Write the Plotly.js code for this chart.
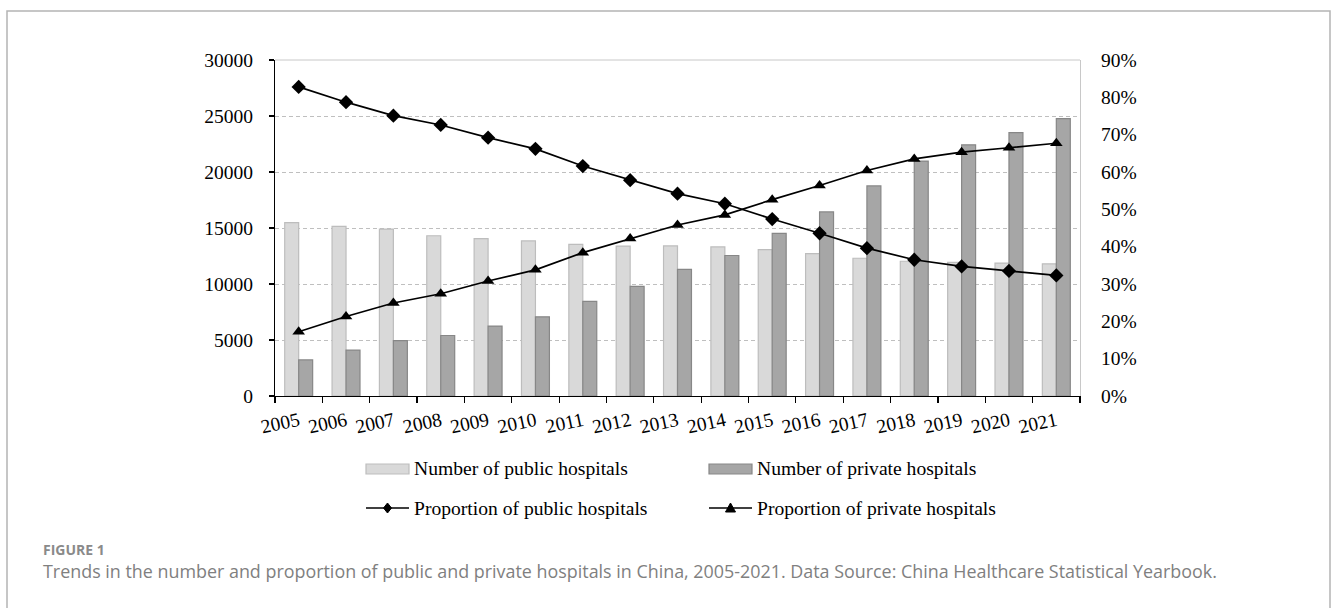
<!DOCTYPE html>
<html>
<head>
<meta charset="utf-8">
<script src="https://cdn.plot.ly/plotly-3.0.1.min.js"></script>
<style>
  html, body { margin: 0; padding: 0; background: #ffffff; }
  #chart { width: 1331px; height: 608px; }
</style>
</head>
<body>
<div id="chart"></div>
<script>
// Hospitals in China by ownership, 2005-2021
const years = ['2005', '2006', '2007', '2008', '2009', '2010', '2011', '2012', '2013',
               '2014', '2015', '2016', '2017', '2018', '2019', '2020', '2021'];
const publicHospitals = [15483, 15150, 14900, 14309, 14051, 13850, 13539, 13384, 13396,
                         13314, 13069, 12708, 12297, 12032, 11930, 11870, 11804];
const privateHospitals = [3220, 4100, 4952, 5403, 6240, 7068, 8440, 9786, 11313,
                          12546, 14518, 16432, 18759, 20977, 22424, 23524, 24766];
// share of all hospitals, in percent
const publicShare = [82.8, 78.7, 75.1, 72.6, 69.2, 66.2, 61.6, 57.8, 54.2,
                     51.5, 47.4, 43.6, 39.6, 36.5, 34.7, 33.5, 32.3];
const privateShare = [17.2, 21.3, 24.9, 27.4, 30.8, 33.8, 38.4, 42.2, 45.8,
                      48.5, 52.6, 56.4, 60.4, 63.5, 65.3, 66.5, 67.7];

const seriesNames = ['Number of public hospitals', 'Number of private hospitals',
                     'Proportion of public hospitals', 'Proportion of private hospitals'];
const figureLabel = 'FIGURE 1';
const caption = 'Trends in the number and proportion of public and private hospitals in China, 2005-2021. Data Source: China Healthcare Statistical Yearbook.';

// page geometry
const W = 1331, H = 608;
const M = { l: 275, r: 251, t: 60, b: 212 };
const PW = W - M.l - M.r, PH = H - M.t - M.b;
const px = x => (x - M.l) / PW;      // page pixel -> paper x
const py = y => (H - M.b - y) / PH;  // page pixel -> paper y

const SERIF = 'Liberation Serif, Times New Roman, serif';
const LIGHT = '#d9d9d9', LIGHT_EDGE = '#bdbdbd';
const DARK = '#a6a6a6', DARK_EDGE = '#878787';

const traces = [
  {
    type: 'bar', x: years, y: publicHospitals, name: seriesNames[0],
    marker: { color: LIGHT, line: { color: LIGHT_EDGE, width: 1.2 } },
    hoverinfo: 'x+y'
  },
  {
    type: 'bar', x: years, y: privateHospitals, name: seriesNames[1],
    marker: { color: DARK, line: { color: DARK_EDGE, width: 1.2 } },
    hoverinfo: 'x+y'
  },
  {
    type: 'scatter', mode: 'lines+markers', x: years, y: publicShare, yaxis: 'y2',
    name: seriesNames[2],
    line: { color: '#000000', width: 1.7 },
    marker: { symbol: 'diamond', size: 11, color: '#000000' }
  },
  {
    type: 'scatter', mode: 'lines+markers', x: years, y: privateShare, yaxis: 'y2',
    name: seriesNames[3],
    line: { color: '#000000', width: 1.7 },
    marker: { symbol: 'triangle-up', size: 11, color: '#000000' }
  }
];

// hand-built legend (wide swatches, two rows)
const legendRows = [469, 508];
const legendCols = [366, 709];
const swW = 43, swH = 10;
const shapes = [];
const annotations = [];

function rectShape(x0, y0, x1, y1, fill, edge) {
  return { type: 'rect', xref: 'paper', yref: 'paper',
           x0: px(x0), x1: px(x1), y0: py(y0), y1: py(y1),
           fillcolor: fill, line: { color: edge, width: 1.2 }, layer: 'above' };
}
function lineShape(x0, y0, x1, y1, color, width) {
  return { type: 'line', xref: 'paper', yref: 'paper',
           x0: px(x0), x1: px(x1), y0: py(y0), y1: py(y1),
           line: { color: color, width: width }, layer: 'above' };
}
function pathShape(points, color) {
  const d = points.map((p, i) => (i ? 'L' : 'M') + px(p[0]) + ',' + py(p[1])).join(' ') + ' Z';
  return { type: 'path', xref: 'paper', yref: 'paper', path: d,
           fillcolor: color, line: { color: color, width: 1 }, layer: 'above' };
}

// bar swatches
shapes.push(rectShape(legendCols[0], legendRows[0] - swH / 2, legendCols[0] + swW, legendRows[0] + swH / 2, LIGHT, LIGHT_EDGE));
shapes.push(rectShape(legendCols[1], legendRows[0] - swH / 2, legendCols[1] + swW, legendRows[0] + swH / 2, DARK, DARK_EDGE));
// line swatches with markers
[0, 1].forEach(c => {
  const x0 = legendCols[c], y = legendRows[1];
  shapes.push(lineShape(x0, y, x0 + swW, y, '#000000', 1.7));
  const cx = x0 + swW / 2;
  if (c === 0) {
    shapes.push(pathShape([[cx, y - 5], [cx + 4, y], [cx, y + 5], [cx - 4, y]], '#000000'));
  } else {
    shapes.push(pathShape([[cx - 5, y + 4], [cx + 5, y + 4], [cx, y - 5]], '#000000'));
  }
});
seriesNames.forEach((name, i) => {
  const row = i < 2 ? 0 : 1, col = i % 2;
  annotations.push({
    xref: 'paper', yref: 'paper', x: px(legendCols[col] + swW + 3), y: py(legendRows[row]),
    xanchor: 'left', yanchor: 'middle', showarrow: false, text: name,
    font: { family: SERIF, size: 19.6, color: '#000000' }
  });
});

// top frame of the plot area
shapes.push({ type: 'line', xref: 'paper', yref: 'paper', x0: 0, x1: 1, y0: 1, y1: 1,
              line: { color: '#c8c8c8', width: 1 }, layer: 'below' });

// outer figure border
shapes.push({ type: 'rect', xref: 'paper', yref: 'paper',
              x0: px(7), x1: px(1330), y0: py(11), y1: py(640),
              line: { color: '#b4b4b4', width: 1.5 }, fillcolor: 'rgba(0,0,0,0)', layer: 'below' });

// caption block
annotations.push({
  xref: 'paper', yref: 'paper', x: px(41), y: py(549), xanchor: 'left', yanchor: 'middle',
  showarrow: false, text: '<b>' + figureLabel + '</b>',
  font: { family: 'Open Sans, sans-serif', size: 14, color: '#8a8a8a' }
});
annotations.push({
  xref: 'paper', yref: 'paper', x: px(41), y: py(571), xanchor: 'left', yanchor: 'middle',
  showarrow: false, text: caption,
  font: { family: 'Open Sans, sans-serif', size: 17.9, color: '#808080' }
});

const layout = {
  width: W, height: H,
  margin: M,
  paper_bgcolor: '#ffffff', plot_bgcolor: '#ffffff',
  showlegend: false,
  barmode: 'group', bargap: 0.41, bargroupgap: 0,
  font: { family: SERIF, size: 19, color: '#000000' },
  xaxis: {
    type: 'category', range: [-0.5, years.length - 0.5],
    showline: true, linecolor: '#000000', linewidth: 1.2,
    ticks: 'outside', tickson: 'boundaries', ticklen: 6, tickcolor: '#000000', tickwidth: 1.2,
    tickangle: -12, ticklabelstandoff: 5,
    tickfont: { family: SERIF, size: 19.5, color: '#000000' },
    showgrid: false, zeroline: false, fixedrange: true
  },
  yaxis: {
    range: [0, 30000], dtick: 5000, tickformat: 'd',
    showline: true, linecolor: '#000000', linewidth: 1.2,
    ticks: 'outside', ticklen: 5, tickcolor: '#000000', tickwidth: 1.2,
    ticklabelstandoff: 12,
    tickfont: { family: SERIF, size: 19.5, color: '#000000' },
    showgrid: true, gridcolor: '#bfbfbf', gridwidth: 1, griddash: '4px,3px',
    zeroline: false, fixedrange: true
  },
  yaxis2: {
    overlaying: 'y', side: 'right',
    range: [0, 90], dtick: 10, ticksuffix: '%',
    showline: true, linecolor: '#c8c8c8', linewidth: 1,
    ticks: '', ticklabelstandoff: 16,
    tickfont: { family: SERIF, size: 19.5, color: '#000000' },
    showgrid: false, zeroline: false, fixedrange: true
  },
  shapes: shapes,
  annotations: annotations
};

Plotly.newPlot('chart', traces, layout, { displayModeBar: false, staticPlot: true });
</script>
</body>
</html>
